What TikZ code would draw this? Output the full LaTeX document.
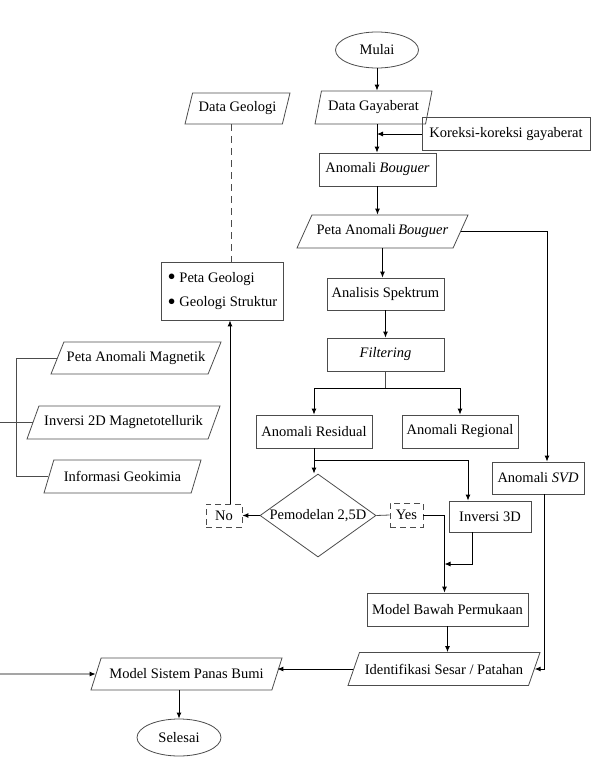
\documentclass[tikz,border=0pt]{standalone}
\usepackage{fontspec}
\setmainfont{Liberation Serif}
\usetikzlibrary{shapes.geometric,arrows.meta}

\newcommand{\ctext}[1]{\makebox[0pt]{#1}}
\newcommand{\bigdot}{\raisebox{-2.6pt}{\scalebox{1.6}{\textbullet}}}

\tikzset{
	procbox/.style={draw=black!70, line width=0.8pt, rectangle, minimum height=33pt, inner sep=0pt},
	databox/.style 2 args={draw=black!70, line width=0.8pt, trapezium, trapezium left angle=#1, trapezium right angle=#2, trapezium stretches body, inner xsep=0pt, minimum height=33pt},
	termbox/.style={draw=black!70, line width=0.8pt, ellipse, inner sep=0pt},
	dashbox/.style={draw=black!70, line width=0.8pt, dash pattern=on 6pt off 4pt, rectangle, inner sep=0pt},
	arr/.style={line width=0.9pt, -{Latex[length=6pt,width=5pt]}},
	plain/.style={line width=0.8pt, black!70}
}

\begin{document}
\begin{tikzpicture}[x=1pt, y=-1pt, every node/.style={font=\fontsize{14.5}{17.4}\selectfont}]
	\useasboundingbox (0,0) rectangle (591,761);

	\node[termbox, minimum width=83pt, minimum height=36pt] (mulai) at (377,50) {Mulai};
	\node[databox={72}{108}, minimum width=117pt] (gaya) at (373.5,107.5) {\ctext{Data Gayaberat}};
	\node[procbox, minimum width=168pt] (koreksi) at (506,134) {Koreksi-koreksi gayaberat};
	\node[procbox, minimum width=117pt] (bouguer) at (377.5,169.5) {Anomali \textit{Bouguer}};
	\node[databox={53}{127}, minimum width=171pt] (petabouguer) at (382.5,231.5) {\ctext{Peta Anomali\,\textit{Bouguer}}};
	\node[procbox, minimum width=117pt, minimum height=32pt] (spektrum) at (385.5,294) {Analisis Spektrum};
	\node[procbox, minimum width=117pt] (filtering) at (385.5,354.5) {\textit{Filtering}};
	\node[procbox, minimum width=116pt] (residual) at (314,431.5) {Anomali Residual};
	\node[procbox, minimum width=116pt] (regional) at (460,431.5) {Anomali Regional};
	\node[procbox, minimum width=92pt, minimum height=32pt] (svd) at (538,478) {Anomali \textit{SVD}};
	\node[diamond, draw=black!70, line width=0.8pt, inner sep=0pt, minimum width=116pt, minimum height=83pt] (pemodelan) at (318,515.5) {\ctext{Pemodelan 2,5D}};
	\node[dashbox, minimum width=36pt, minimum height=23pt] (no) at (224,515.5) {No};
	\node[dashbox, minimum width=33pt, minimum height=24pt] (yes) at (406.5,515) {Yes};
	\node[procbox, minimum width=82pt, minimum height=31pt] (inversi) at (490,516.5) {Inversi 3D};
	\node[procbox, minimum width=161pt] (bawah) at (447.5,609.5) {Model Bawah Permukaan};
	\node[databox={56}{124}, minimum width=192pt] (sesar) at (444,669) {\ctext{Identifikasi Sesar / Patahan}};
	\node[databox={59}{121}, minimum width=191pt, minimum height=32pt] (sistem) at (186.5,674) {\ctext{Model Sistem Panas Bumi}};
	\node[termbox, minimum width=84pt, minimum height=37pt] (selesai) at (179,737.5) {Selesai};

	\node[databox={69}{111}, minimum width=105pt, minimum height=31pt] (datageologi) at (237.5,108.5) {\ctext{Data Geologi}};
	\node[procbox, minimum width=121pt, minimum height=58pt, align=left, inner xsep=6pt] (petageologi) at (222.5,291) {\bigdot\ Peta Geologi\\[7pt]\bigdot\ Geologi Struktur};
	\node[databox={57}{123}, minimum width=170pt, minimum height=32pt] (magnetik) at (136,358) {\ctext{Peta Anomali Magnetik}};
	\node[databox={59}{121}, minimum width=193pt] (mt) at (123.5,422.5) {\ctext{Inversi 2D Magnetotellurik}};
	\node[databox={60}{120}, minimum width=157pt] (geokimia) at (122.5,476.5) {\ctext{Informasi Geokimia}};

	\draw[arr] (mulai.south) -- (mulai.south |- gaya.north);
	\draw[arr] (mulai.south |- gaya.south) -- (mulai.south |- bouguer.north);
	\draw[arr] (koreksi.west) -- (koreksi.west -| mulai.south);
	\draw[arr] (bouguer.south) -- (bouguer.south |- petabouguer.north);
	\draw[arr] (petabouguer.south) -- (petabouguer.south |- spektrum.north);
	\draw[arr] (spektrum.south) -- (filtering.north);

	\coordinate (cabang) at ([yshift=-17pt]filtering.south);
	\draw[plain] (filtering.south) -- (cabang);
	\draw[arr] (cabang) -| (residual.north);
	\draw[arr] (cabang) -| (regional.north);
	\draw[arr] (petabouguer.east) -| ([xshift=9pt]svd.north);

	\draw[arr] (residual.south) -- (residual.south |- pemodelan.north);
	\coordinate (cabang2) at ([yshift=-12pt]residual.south);
	\draw[arr] (cabang2) -| ([xshift=-22pt]inversi.north);
	\draw[arr] (pemodelan.west) -- (no.east);
	\draw[plain] (pemodelan.east) -- (yes.west);
	\coordinate (masuk) at ([xshift=-3pt]bawah.north);
	\coordinate (gabung) at (masuk |- 0,564);
	\draw[arr] (yes.east) -| (masuk);
	\draw[arr] ([xshift=-18pt]inversi.south) |- (gabung);

	\draw[arr] ([xshift=6pt]no.north) -- ([xshift=6pt]no.north |- petageologi.south);
	\draw[plain, dash pattern=on 7pt off 5pt] ([xshift=-6pt]datageologi.south) -- ([xshift=-6pt]datageologi.south |- petageologi.north);

	\draw[arr] (bawah.south) -- (bawah.south |- sesar.north);
	\draw[arr] ([xshift=6pt]svd.south) |- (sesar.east);
	\draw[arr] (sesar.west) -- (sesar.west -| sistem.east);
	\coordinate (kiri) at (0,674);
	\draw[arr] (kiri) -- (sistem.west);
	\draw[arr] (selesai.north |- sistem.south) -- (selesai.north);

	\coordinate (kurung) at (16,420);
	\draw[plain] (magnetik.west) -- (magnetik.west -| kurung) -- (geokimia.west -| kurung) -- (geokimia.west);
	\coordinate (tepi) at (0,422.5);
	\draw[plain] (tepi) -- (mt.west);
\end{tikzpicture}
\end{document}
